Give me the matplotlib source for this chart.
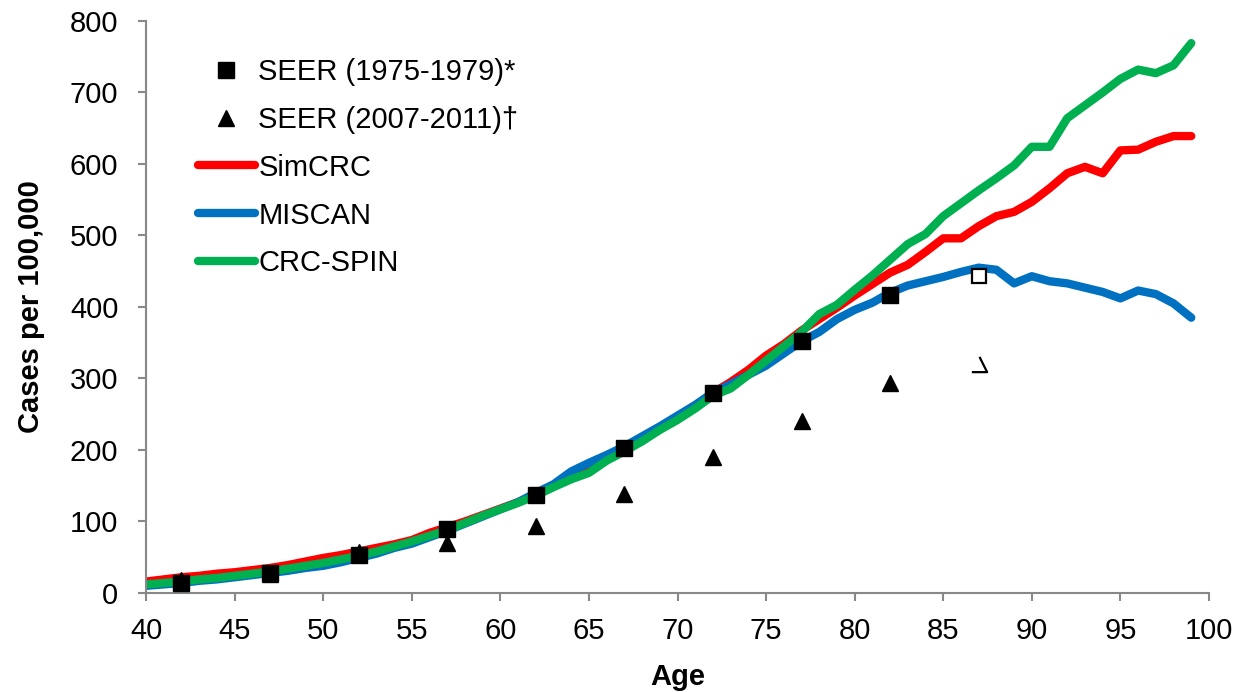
import matplotlib
matplotlib.use("Agg")
import matplotlib.pyplot as plt
from matplotlib.path import Path

plt.rcParams['font.family'] = ['Liberation Sans', 'DejaVu Sans']

ages = list(range(40, 100))

simcrc = [16, 19, 22, 24, 27, 29, 32, 35, 39, 44,
          49, 53, 58, 63, 68, 74, 84, 92, 100, 109,
          118, 127, 138, 150, 162, 173, 188, 202, 215, 230,
          245, 262, 280, 295, 312, 332, 348, 367, 383, 399,
          416, 432, 448, 459, 477, 496, 496, 513, 527, 533,
          547, 566, 587, 596, 587, 619, 620, 631, 639, 639]

miscan = [10, 12, 14, 17, 19, 22, 25, 28, 31, 35,
          38, 43, 49, 55, 63, 69, 78, 87, 97, 107,
          117, 127, 140, 152, 170, 182, 193, 205, 219, 233,
          248, 263, 280, 292, 305, 318, 335, 352, 365, 383,
          396, 406, 420, 430, 436, 442, 449, 455, 452, 433,
          443, 436, 433, 427, 421, 412, 423, 418, 405, 385]

crcspin = [12, 14, 16, 19, 21, 24, 27, 30, 34, 38,
           42, 47, 52, 58, 65, 72, 80, 88, 98, 108,
           117, 126, 136, 148, 159, 168, 185, 198, 212, 228,
           242, 258, 276, 286, 305, 325, 345, 365, 390, 403,
           424, 444, 466, 488, 502, 527, 545, 563, 580, 598,
           624, 624, 664, 682, 700, 719, 732, 727, 738, 769]

# SEER observed incidence, 5-year age groups (midpoints)
seer_ages = [42, 47, 52, 57, 62, 67, 72, 77, 82]
seer_1975 = [14, 28, 53, 90, 137, 203, 280, 352, 417]
seer_2007 = [18, 26, 57, 70, 94, 138, 190, 240, 293]

# oldest age group drawn separately (open markers)
seer_old_age = 87
seer_1975_old = 443
seer_2007_old = 320

fig = plt.figure(figsize=(12.42, 6.92), dpi=100)
ax = fig.add_axes([0.1176, 0.1431, 0.9734 - 0.1176, 0.9697 - 0.1431])

lw = 6
l1, = ax.plot(ages, simcrc, color='#ff0000', lw=lw, solid_capstyle='round',
              solid_joinstyle='round', label='SimCRC', zorder=2)
l2, = ax.plot(ages, miscan, color='#0070c0', lw=lw, solid_capstyle='round',
              solid_joinstyle='round', label='MISCAN', zorder=2)
l3, = ax.plot(ages, crcspin, color='#00b050', lw=lw, solid_capstyle='round',
              solid_joinstyle='round', label='CRC-SPIN', zorder=2)

m2, = ax.plot(seer_ages, seer_2007, linestyle='none', marker='^', ms=11.5,
              color='black', label='SEER (2007-2011)\u2020', zorder=3)
m1, = ax.plot(seer_ages, seer_1975, linestyle='none', marker='s', ms=11,
              color='black', label='SEER (1975-1979)*', zorder=4)

ax.plot([seer_old_age], [seer_1975_old], linestyle='none', marker='s', ms=10,
        markerfacecolor='white', markeredgecolor='black', mew=1.6, zorder=4)

# broken triangle outline: right edge and base only
tri_open = Path([(0, 1), (1, -1), (-1, -1)],
                [Path.MOVETO, Path.LINETO, Path.LINETO])
ax.plot([seer_old_age], [seer_2007_old], linestyle='none', marker=tri_open,
        ms=11, markerfacecolor='none', markeredgecolor='black', mew=1.6,
        zorder=4)

ax.set_xlim(40, 100)
ax.set_ylim(0, 800)
ax.set_xticks(range(40, 101, 5))
ax.set_yticks(range(0, 801, 100))

for side in ['top', 'right']:
    ax.spines[side].set_visible(False)
for side in ['left', 'bottom']:
    ax.spines[side].set_color('#888888')
    ax.spines[side].set_linewidth(1.5)

fs = 21
ax.tick_params(axis='both', direction='out', length=6, width=1.5,
               color='#888888', labelsize=fs)
ax.tick_params(axis='y', pad=14)
ax.tick_params(axis='x', pad=11)

ax.set_xlabel('Age', fontsize=fs, fontweight='bold', labelpad=13)
ax.set_ylabel('Cases per 100,000', fontsize=fs, fontweight='bold', labelpad=18)

ax.legend(handles=[m1, m2, l1, l2, l3], loc='upper left',
          bbox_to_anchor=(198 / 1242, 1 - 58 / 692),
          bbox_transform=fig.transFigure, frameon=False, fontsize=fs,
          handlelength=1.95, handletextpad=0.12, labelspacing=0.68,
          borderpad=0, borderaxespad=0, numpoints=1)

fig.savefig('out.png', dpi=100)
